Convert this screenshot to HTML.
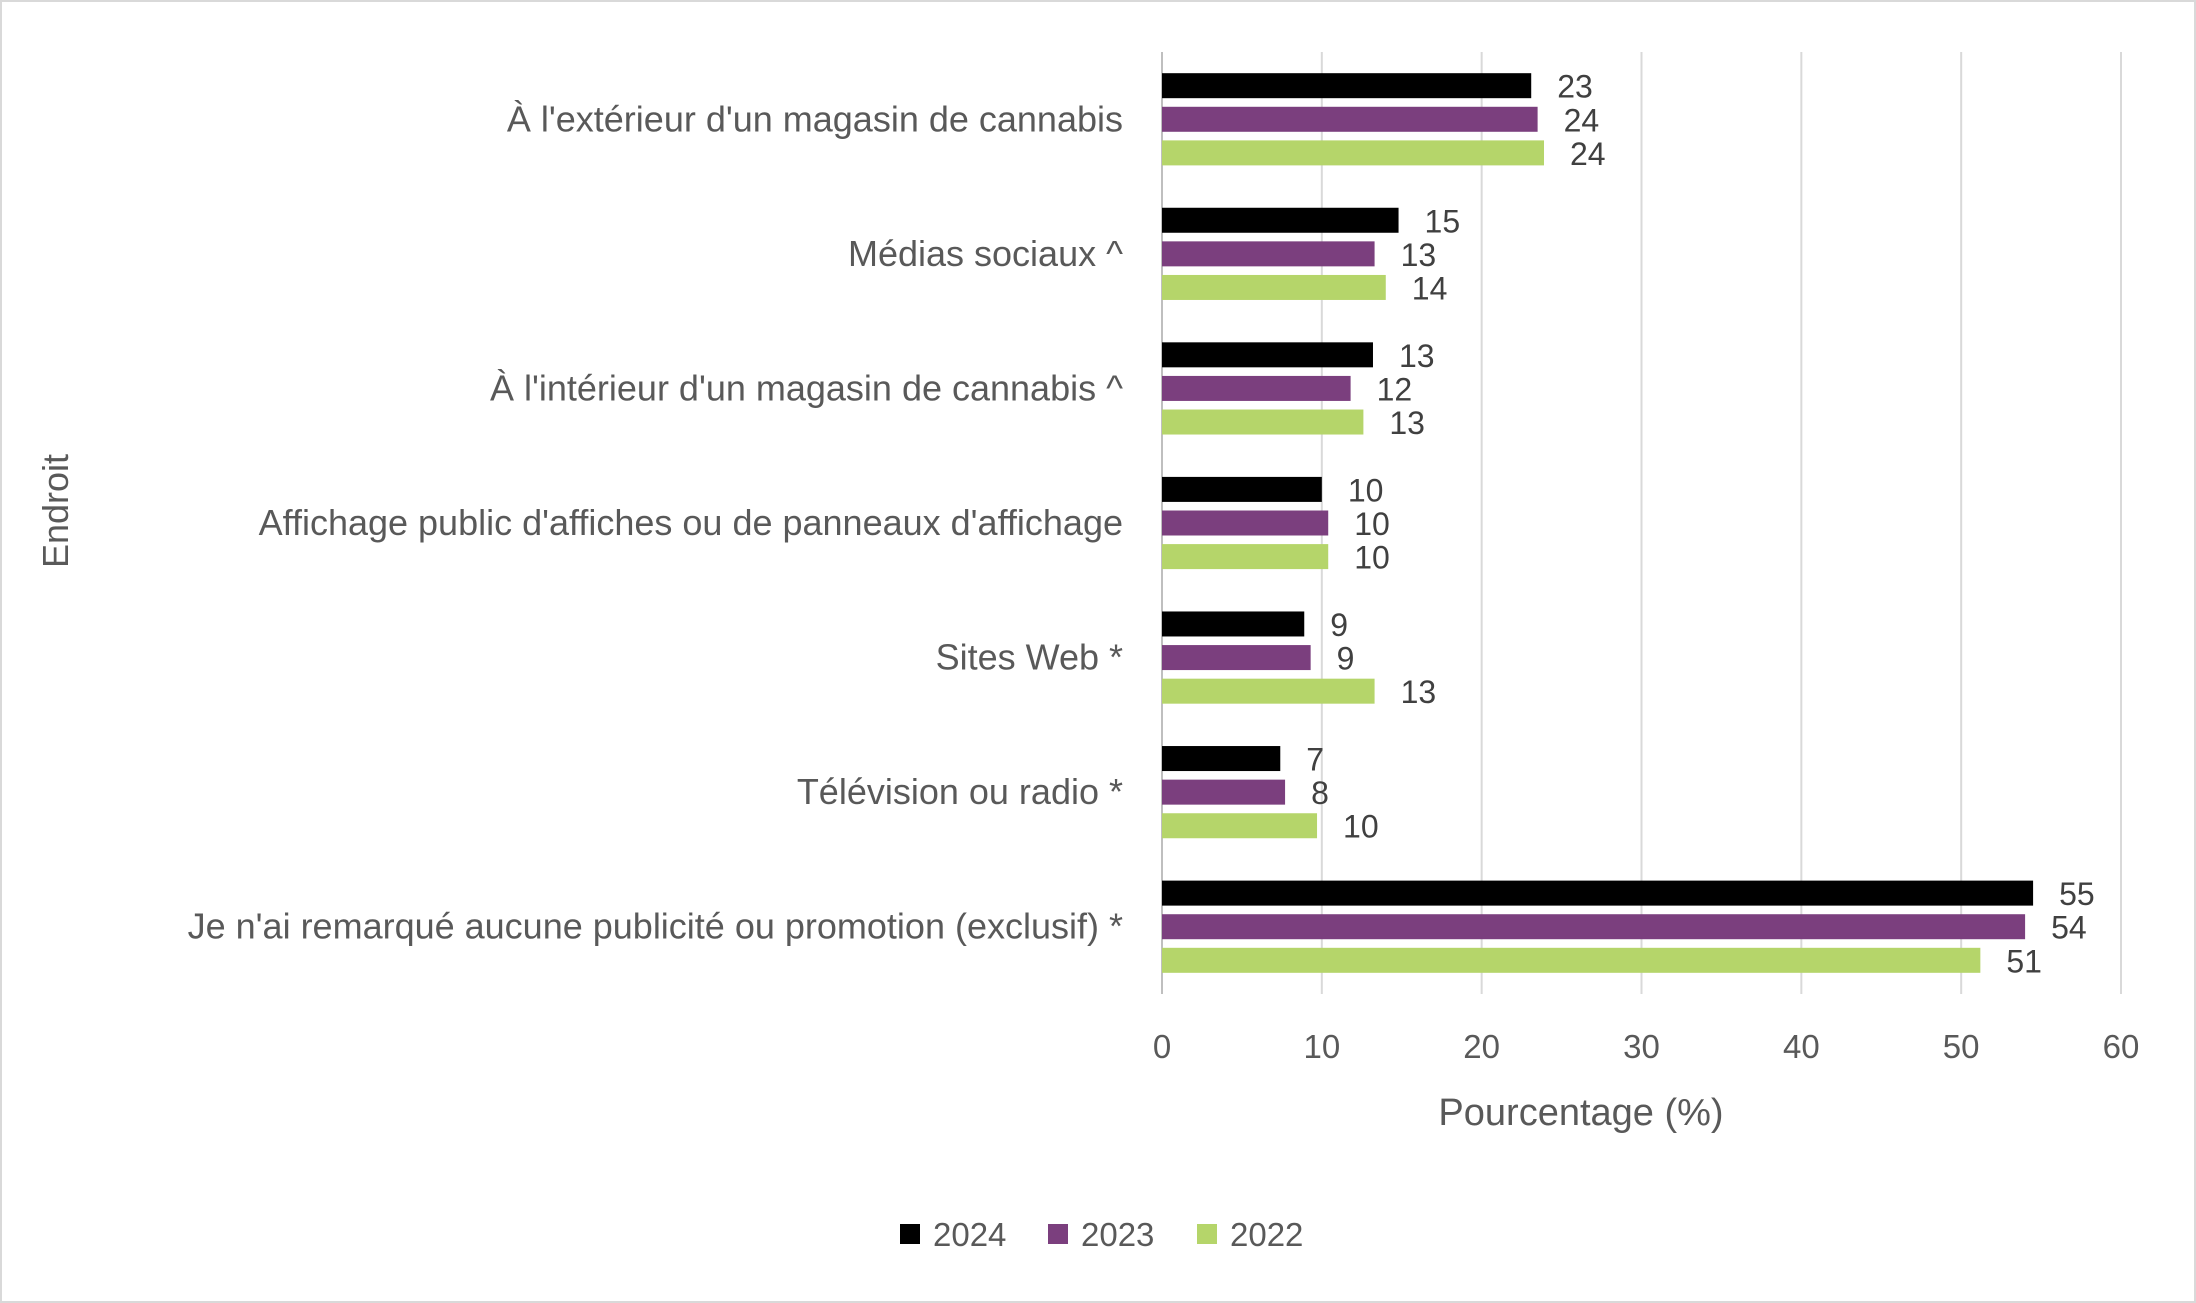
<!DOCTYPE html>
<html><head><meta charset="utf-8"><style>
html,body{margin:0;padding:0;background:#fff;}
svg{display:block;font-family:"Liberation Sans",sans-serif;}
</style></head><body>
<svg id="chart" width="2196" height="1303" viewBox="0 0 2196 1303">
<rect x="1" y="1" width="2194" height="1301" fill="#fff" stroke="#d9d9d9" stroke-width="2"/>
<g id="grid"></g><g id="bars"></g><g id="labels"></g>
<text x="1581" y="1125" font-size="38" fill="#595959" text-anchor="middle">Pourcentage (%)</text>
<text x="0" y="0" font-size="36" fill="#595959" text-anchor="middle" transform="translate(68,511) rotate(-90)">Endroit</text>
<g id="legend"></g>
</svg>
<script>
const categories=["À l'extérieur d'un magasin de cannabis","Médias sociaux ^","À l'intérieur d'un magasin de cannabis ^","Affichage public d'affiches ou de panneaux d'affichage","Sites Web *","Télévision ou radio *","Je n'ai remarqué aucune publicité ou promotion (exclusif) *"];
const seriesNames=["2024","2023","2022"];
const values2024=[23.1,14.8,13.2,10.0,8.9,7.4,54.5];
const values2023=[23.5,13.3,11.8,10.4,9.3,7.7,54.0];
const values2022=[23.9,14.0,12.6,10.4,13.3,9.7,51.2];
const ticks=[0,10,20,30,40,50,60];
const colors=["#000000","#7b3f7e","#b5d56a"];
const NS="http://www.w3.org/2000/svg";
const x0=1162,x1=2121,xmax=60;
const xs=v=>x0+(x1-x0)*v/xmax;
const gTop=52,gBot=994,grpH=(gBot-gTop)/categories.length,barH=25,barStep=33.6;
function mk(tag,attrs,parent){const e=document.createElementNS(NS,tag);for(const k in attrs)e.setAttribute(k,attrs[k]);parent.appendChild(e);return e;}
const grid=document.getElementById('grid'),bars=document.getElementById('bars'),labels=document.getElementById('labels'),legend=document.getElementById('legend');
ticks.forEach(t=>{
 const l=mk('line',{x1:xs(t),x2:xs(t),y1:gTop,y2:gBot,stroke:t===0?'#bfbfbf':'#d9d9d9','stroke-width':2},grid);
 
 
 const tx=mk('text',{x:xs(t),y:1058,'font-size':33,fill:'#595959','text-anchor':'middle'},labels);
 tx.textContent=t;
 
 
});
const all=[values2024,values2023,values2022];
categories.forEach((c,i)=>{
 const cy=gTop+grpH*(i+0.5);
 const ct=mk('text',{x:1123,y:cy+12,'font-size':36,fill:'#595959','text-anchor':'end'},labels);
 ct.textContent=c;
 
 
 all.forEach((arr,s)=>{
  const by=cy+(s-1)*barStep;
  const r=mk('rect',{x:x0,y:by-barH/2,width:xs(arr[i])-x0,height:barH,fill:colors[s]},bars);
  
  
  const vt=mk('text',{x:xs(arr[i])+26,y:by+12,'font-size':32,fill:'#404040'},labels);
  vt.textContent=Math.round(arr[i]);
  
  
 });
});
const lx=[900,1048,1197];
seriesNames.forEach((n,s)=>{
 const sq=mk('rect',{x:lx[s],y:1224,width:20,height:20,fill:colors[s]},legend);
 
 
 const t=mk('text',{x:lx[s]+33,y:1246,'font-size':33,fill:'#595959'},legend);
 t.textContent=n;
 
 
});
</script>
</body></html>
